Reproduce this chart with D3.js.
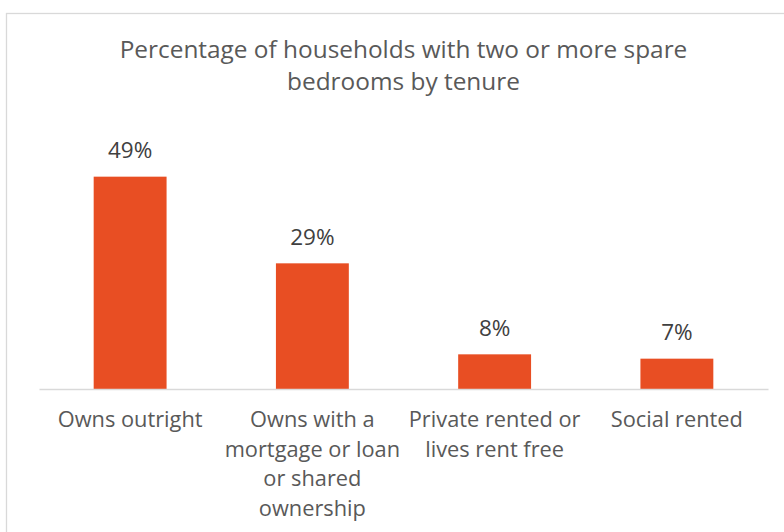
<!DOCTYPE html>
<html>
<head>
<meta charset="utf-8">
<script src="https://cdn.jsdelivr.net/npm/d3@7"></script>
<style>
  html, body { margin: 0; padding: 0; background: #fff; }
  svg { display: block; }
  text { font-family: "Open Sans", "Noto Sans", sans-serif; }
</style>
</head>
<body>
<svg id="chart" width="784" height="532"></svg>
<script>
// Share of households with two or more spare bedrooms, by tenure
const categories = [
  ["Owns outright"],
  ["Owns with a", "mortgage or loan", "or shared", "ownership"],
  ["Private rented or", "lives rent free"],
  ["Social rented"]
];
const values = [49, 29, 8, 7];
const titleLines = [
  "Percentage of households with two or more spare",
  "bedrooms by tenure"
];

const W = 784, H = 532;
const margin = { left: 39, right: 16, top: 129, bottom: 143 };
const svg = d3.select("#chart");

// chart frame
svg.append("rect")
  .attr("x", 6.5).attr("y", 13.5)
  .attr("width", W + 10).attr("height", H + 10)
  .attr("fill", "#fff")
  .attr("stroke", "#d9d9d9").attr("stroke-width", 1.3);

const x = d3.scaleBand()
  .domain(d3.range(categories.length))
  .range([margin.left, W - margin.right])
  .paddingInner(0.6)
  .paddingOuter(0.3);

const y = d3.scaleLinear()
  .domain([0, 60])
  .range([H - margin.bottom, margin.top]);

const cx = (margin.left + W - margin.right) / 2;

// title
svg.append("text")
  .attr("x", cx)
  .attr("y", 58)
  .attr("text-anchor", "middle")
  .attr("fill", "#595959")
  .attr("font-size", 24.4)
  .selectAll("tspan")
  .data(titleLines)
  .join("tspan")
  .attr("x", cx)
  .attr("dy", (d, i) => i === 0 ? 0 : 32)
  .text(d => d);

// bars
svg.append("g")
  .selectAll("rect")
  .data(values)
  .join("rect")
  .attr("x", (d, i) => x(i))
  .attr("y", d => y(d))
  .attr("width", x.bandwidth())
  .attr("height", d => y(0) - y(d))
  .attr("fill", "#e84e23");

// value labels
svg.append("g")
  .selectAll("text")
  .data(values)
  .join("text")
  .attr("x", (d, i) => x(i) + x.bandwidth() / 2)
  .attr("y", d => y(d) - 18.5)
  .attr("text-anchor", "middle")
  .attr("fill", "#404040")
  .attr("font-size", 22.5)
  .text(d => d + "%");

// category axis
const axis = svg.append("g")
  .attr("transform", `translate(0,${y(0)})`)
  .call(d3.axisBottom(x).tickSize(0).tickFormat(""));
axis.select(".domain").attr("stroke", "#d9d9d9").attr("stroke-width", 1.5);

const catLabels = svg.append("g")
  .selectAll("text")
  .data(categories)
  .join("text")
  .attr("text-anchor", "middle")
  .attr("fill", "#595959")
  .attr("font-size", 21.8)
  .attr("y", y(0) + 38);
catLabels.selectAll("tspan")
  .data((lines, i) => lines.map(l => ({ l, i })))
  .join("tspan")
  .attr("x", d => x(d.i) + x.bandwidth() / 2)
  .attr("dy", (d, j) => j === 0 ? 0 : 29.6)
  .text(d => d.l);
</script>
</body>
</html>
